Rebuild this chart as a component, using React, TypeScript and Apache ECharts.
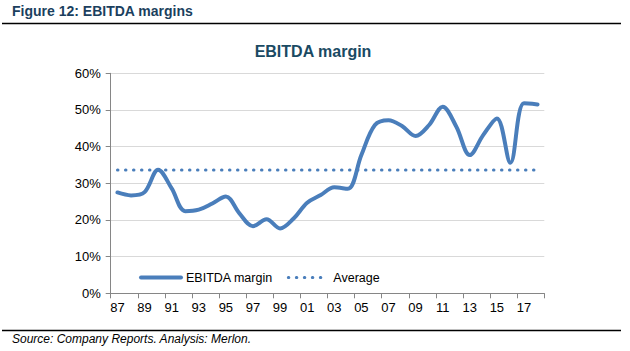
import React, { useEffect, useRef } from "react";
import * as echarts from "echarts";

const years = [
  "1987", "1988", "1989", "1990", "1991", "1992", "1993", "1994", "1995", "1996",
  "1997", "1998", "1999", "2000", "2001", "2002", "2003", "2004", "2005", "2006",
  "2007", "2008", "2009", "2010", "2011", "2012", "2013", "2014", "2015", "2016",
  "2017", "2018",
];
const ebitdaMargin = [
  27.5, 26.7, 27.6, 33.7, 28.6, 22.4, 22.8, 24.5, 26.4, 21.8,
  18.3, 20.2, 17.7, 20.4, 24.7, 26.8, 28.9, 28.5, 37.7, 45.9,
  47.2, 45.6, 42.9, 45.9, 50.9, 45.5, 37.7, 43.2, 47.7, 35.6,
  51.8, 51.5,
];
const averageValue = 33.6;
const yTicks = [0, 10, 20, 30, 40, 50, 60];

export default function App() {
  const ref = useRef<HTMLDivElement>(null);
  useEffect(() => {
    if (!ref.current) return;
    const chart = echarts.init(ref.current, undefined, { renderer: "svg" });
    const blue = "#4A7EBB";
    chart.setOption({
      animation: false,
      backgroundColor: "#ffffff",
      textStyle: { fontFamily: "Liberation Sans, Arial, sans-serif" },
      title: {
        text: "EBITDA margin",
        left: 308,
        textAlign: "center",
        top: 38,
        textStyle: { fontSize: 16, fontWeight: "bold", color: "#1A4A63", fontFamily: "Liberation Sans, Arial, sans-serif" },
      },
      legend: {
        left: 134,
        top: 266,
        itemWidth: 40,
        itemHeight: 14,
        itemGap: 14,
        itemStyle: { opacity: 0 },
        textStyle: { fontSize: 12.5, color: "#000", fontFamily: "Liberation Sans, Arial, sans-serif" },
        data: [
          { name: "EBITDA margin", lineStyle: { width: 4, color: blue } },
          { name: "Average", lineStyle: { width: 3, color: blue, type: [0.5, 7.5], cap: "round" } },
        ],
      },
      grid: { left: 110.7, right: 85.7, top: 73.3, bottom: 57.7 },
      xAxis: {
        type: "category",
        data: years,
        boundaryGap: true,
        axisLine: { lineStyle: { color: "#868686", width: 1 } },
        axisTick: { show: true, interval: 1, length: 5, lineStyle: { color: "#868686" } },
        axisLabel: {
          interval: 1,
          margin: 8,
          fontSize: 13,
          color: "#000",
          formatter: (v: string) => v.slice(2),
        },
        splitLine: { show: false },
      },
      yAxis: {
        type: "value",
        min: yTicks[0],
        max: yTicks[yTicks.length - 1],
        interval: 10,
        axisLine: { show: true, lineStyle: { color: "#868686", width: 1 } },
        axisTick: { show: true, length: 5, lineStyle: { color: "#868686" } },
        axisLabel: { fontSize: 13, color: "#000", margin: 10, formatter: "{value}%" },
        splitLine: { show: true, lineStyle: { color: "#D9D9D9", width: 1 } },
      },
      series: [
        {
          name: "EBITDA margin",
          type: "line",
          data: ebitdaMargin,
          smooth: 0.35,
          symbol: "none",
          lineStyle: { color: blue, width: 4, cap: "round", join: "round" },
          itemStyle: { color: blue },
        },
        {
          name: "Average",
          type: "line",
          data: years.map(() => averageValue),
          symbol: "none",
          lineStyle: { color: blue, width: 3, type: [0.5, 7.5], cap: "round" },
          itemStyle: { color: blue },
        },
      ],
      graphic: [
        {
          type: "text",
          left: 12,
          top: 4,
          style: {
            text: "Figure 12: EBITDA margins",
            fontSize: 14,
            fontWeight: "bold",
            fill: "#1B3F5E",
            fontFamily: "Liberation Sans, Arial, sans-serif",
          },
        },
        {
          type: "line",
          shape: { x1: 2, y1: 23.5, x2: 621, y2: 23.5 },
          style: { stroke: "#000", lineWidth: 1.5 },
        },
        {
          type: "line",
          shape: { x1: 2, y1: 330.5, x2: 621, y2: 330.5 },
          style: { stroke: "#000", lineWidth: 1.5 },
        },
        {
          type: "text",
          left: 12,
          top: 333,
          style: {
            text: "Source: Company Reports. Analysis: Merlon.",
            fontSize: 12,
            fontStyle: "italic",
            fill: "#000",
            fontFamily: "Liberation Sans, Arial, sans-serif",
          },
        },
      ],
    });
    return () => chart.dispose();
  }, []);
  return (
    <div
      ref={ref}
      style={{ position: "fixed", left: 0, top: 0, width: 630, height: 351 }}
    />
  );
}
